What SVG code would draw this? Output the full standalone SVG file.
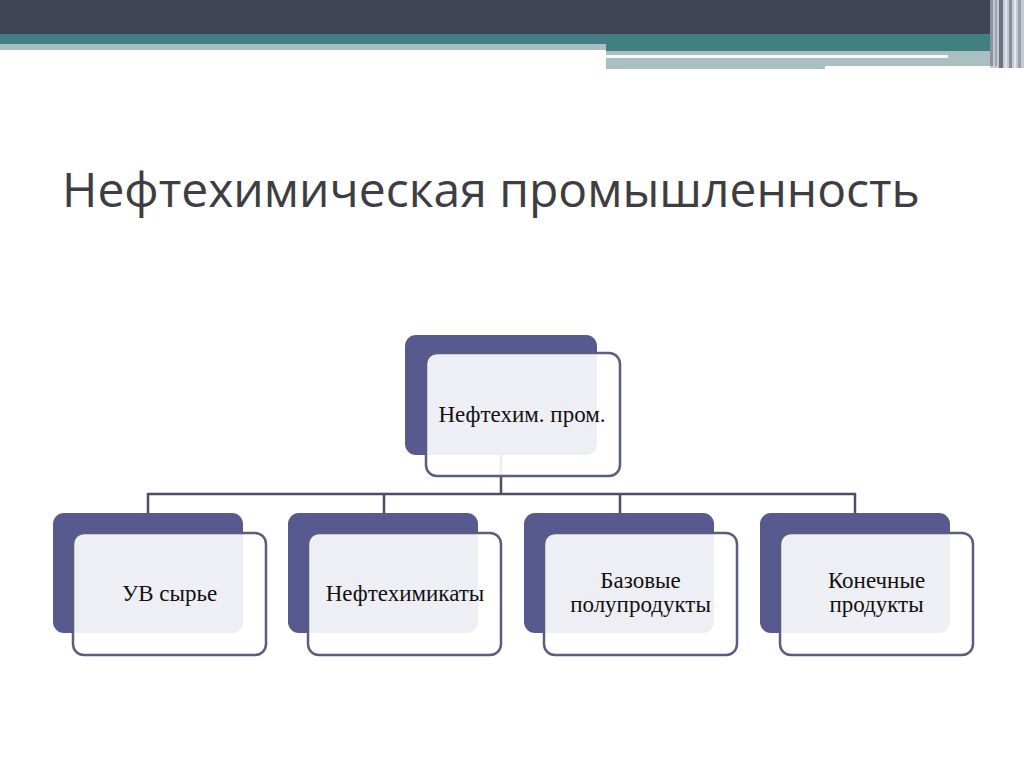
<svg xmlns="http://www.w3.org/2000/svg" width="1024" height="768" viewBox="0 0 1024 768">
<defs>
<style>
.back{fill:#565a8e}
.front{fill:#ffffff;fill-opacity:0.9;stroke:#5a5d80;stroke-width:2.5}
.lbl{font-family:"Liberation Serif","DejaVu Serif",serif;font-size:23px;fill:#111;text-anchor:middle}
.conn{stroke:#4b4e68;stroke-width:2.5;fill:none}
.title{font-family:"Open Sans","Liberation Sans",sans-serif;font-size:48px;fill:#3d3d42}
</style>
</defs>
<rect width="1024" height="768" fill="#ffffff"/>
<g id="header">
<rect x="0" y="0" width="1024" height="34" fill="#414456"/>
<rect x="0" y="34" width="1000" height="10" fill="#427f82"/>
<rect x="0" y="44" width="606" height="6" fill="#a9bfc0"/>
<rect x="606" y="44" width="394" height="7" fill="#427f82"/>
<rect x="606" y="51" width="394" height="15" fill="#a9bfc0"/>
<rect x="606" y="66" width="219" height="3" fill="#a9bfc0"/>
<rect x="606" y="55" width="342" height="3" fill="#f4fafa"/>
<rect x="990" y="0" width="34" height="68" fill="#c5cad0"/>
<rect x="990" y="0" width="3" height="66" fill="#8c90a0"/>
<rect x="995" y="0" width="2" height="66" fill="#a0a4b0"/>
<rect x="999" y="0" width="4" height="68" fill="#6c7080"/>
<rect x="1005" y="0" width="2" height="68" fill="#dfe2e6"/>
<rect x="1009" y="0" width="3" height="68" fill="#8a8e9c"/>
<rect x="1014" y="0" width="2" height="68" fill="#e6e8ec"/>
<rect x="1018" y="0" width="3" height="68" fill="#9a9eaa"/>
</g>
<text class="title" x="62" y="207">Нефтехимическая промышленность</text>
<g id="connectors">
<line class="conn" x1="501" y1="455" x2="501" y2="494"/>
<line class="conn" x1="148" y1="494" x2="856" y2="494"/>
<line class="conn" x1="148" y1="493" x2="148" y2="513"/>
<line class="conn" x1="384" y1="493" x2="384" y2="513"/>
<line class="conn" x1="620" y1="493" x2="620" y2="513"/>
<line class="conn" x1="855" y1="493" x2="855" y2="513"/>
</g>
<g id="node-top">
<rect class="back" x="405" y="335" width="192" height="120" rx="11"/>
<rect class="front" x="426" y="353" width="194" height="123" rx="11"/>
<text class="lbl" x="522" y="422">Нефтехим. пром.</text>
</g>
<g id="node-1">
<rect class="back" x="53" y="513" width="190" height="120" rx="11"/>
<rect class="front" x="73" y="533" width="193" height="122" rx="11"/>
<text class="lbl" x="169.5" y="601">УВ сырье</text>
</g>
<g id="node-2">
<rect class="back" x="288" y="513" width="190" height="120" rx="11"/>
<rect class="front" x="308" y="533" width="193" height="122" rx="11"/>
<text class="lbl" x="405" y="601">Нефтехимикаты</text>
</g>
<g id="node-3">
<rect class="back" x="524" y="513" width="190" height="120" rx="11"/>
<rect class="front" x="544" y="533" width="193" height="122" rx="11"/>
<text class="lbl" x="640.5" y="588">Базовые</text>
<text class="lbl" x="640.5" y="612">полупродукты</text>
</g>
<g id="node-4">
<rect class="back" x="760" y="513" width="190" height="120" rx="11"/>
<rect class="front" x="780" y="533" width="193" height="122" rx="11"/>
<text class="lbl" x="876.5" y="588">Конечные</text>
<text class="lbl" x="876.5" y="612">продукты</text>
</g>
</svg>
